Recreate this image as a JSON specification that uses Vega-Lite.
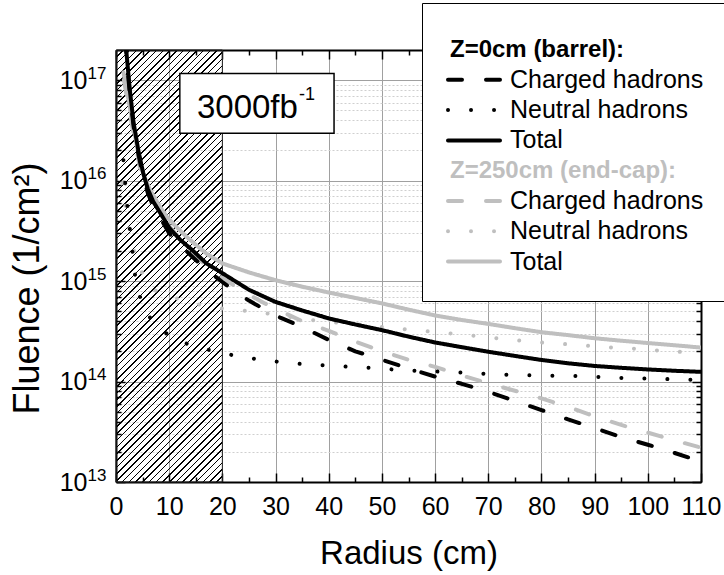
{
"$schema":"https://vega.github.io/schema/vega-lite/v6.json",
"width":585,"height":432,
"autosize":{"type":"none"},
"padding":{"left":116,"top":50,"right":23,"bottom":93},
"config":{"font":"Liberation Sans","view":{"stroke":null}},
"resolve":{"axis":{"x":"independent","y":"independent"}},
"layer":[
{
"data":{"values":[{}]},
"mark":{"type":"rect","stroke":"#222","strokeWidth":1,"fill":{"gradient":"linear","x1":0,"y1":0,"x2":0.2894,"y2":1.175,"stops":[
{"offset":0,"color":"#000"},{"offset":0.0028,"color":"#000"},{"offset":0.0028,"color":"transparent"},{"offset":0.0125,"color":"transparent"},
{"offset":0.0125,"color":"#000"},{"offset":0.0153,"color":"#000"},{"offset":0.0153,"color":"transparent"},{"offset":0.025,"color":"transparent"},
{"offset":0.025,"color":"#000"},{"offset":0.0278,"color":"#000"},{"offset":0.0278,"color":"transparent"},{"offset":0.0375,"color":"transparent"},
{"offset":0.0375,"color":"#000"},{"offset":0.0403,"color":"#000"},{"offset":0.0403,"color":"transparent"},{"offset":0.05,"color":"transparent"},
{"offset":0.05,"color":"#000"},{"offset":0.0528,"color":"#000"},{"offset":0.0528,"color":"transparent"},{"offset":0.0625,"color":"transparent"},
{"offset":0.0625,"color":"#000"},{"offset":0.0653,"color":"#000"},{"offset":0.0653,"color":"transparent"},{"offset":0.075,"color":"transparent"},
{"offset":0.075,"color":"#000"},{"offset":0.0778,"color":"#000"},{"offset":0.0778,"color":"transparent"},{"offset":0.0875,"color":"transparent"},
{"offset":0.0875,"color":"#000"},{"offset":0.0903,"color":"#000"},{"offset":0.0903,"color":"transparent"},{"offset":0.1,"color":"transparent"},
{"offset":0.1,"color":"#000"},{"offset":0.1028,"color":"#000"},{"offset":0.1028,"color":"transparent"},{"offset":0.1125,"color":"transparent"},
{"offset":0.1125,"color":"#000"},{"offset":0.1153,"color":"#000"},{"offset":0.1153,"color":"transparent"},{"offset":0.125,"color":"transparent"},
{"offset":0.125,"color":"#000"},{"offset":0.1278,"color":"#000"},{"offset":0.1278,"color":"transparent"},{"offset":0.1375,"color":"transparent"},
{"offset":0.1375,"color":"#000"},{"offset":0.1403,"color":"#000"},{"offset":0.1403,"color":"transparent"},{"offset":0.15,"color":"transparent"},
{"offset":0.15,"color":"#000"},{"offset":0.1528,"color":"#000"},{"offset":0.1528,"color":"transparent"},{"offset":0.1625,"color":"transparent"},
{"offset":0.1625,"color":"#000"},{"offset":0.1653,"color":"#000"},{"offset":0.1653,"color":"transparent"},{"offset":0.175,"color":"transparent"},
{"offset":0.175,"color":"#000"},{"offset":0.1778,"color":"#000"},{"offset":0.1778,"color":"transparent"},{"offset":0.1875,"color":"transparent"},
{"offset":0.1875,"color":"#000"},{"offset":0.1903,"color":"#000"},{"offset":0.1903,"color":"transparent"},{"offset":0.2,"color":"transparent"},
{"offset":0.2,"color":"#000"},{"offset":0.2028,"color":"#000"},{"offset":0.2028,"color":"transparent"},{"offset":0.2125,"color":"transparent"},
{"offset":0.2125,"color":"#000"},{"offset":0.2153,"color":"#000"},{"offset":0.2153,"color":"transparent"},{"offset":0.225,"color":"transparent"},
{"offset":0.225,"color":"#000"},{"offset":0.2278,"color":"#000"},{"offset":0.2278,"color":"transparent"},{"offset":0.2375,"color":"transparent"},
{"offset":0.2375,"color":"#000"},{"offset":0.2403,"color":"#000"},{"offset":0.2403,"color":"transparent"},{"offset":0.25,"color":"transparent"},
{"offset":0.25,"color":"#000"},{"offset":0.2528,"color":"#000"},{"offset":0.2528,"color":"transparent"},{"offset":0.2625,"color":"transparent"},
{"offset":0.2625,"color":"#000"},{"offset":0.2653,"color":"#000"},{"offset":0.2653,"color":"transparent"},{"offset":0.275,"color":"transparent"},
{"offset":0.275,"color":"#000"},{"offset":0.2778,"color":"#000"},{"offset":0.2778,"color":"transparent"},{"offset":0.2875,"color":"transparent"},
{"offset":0.2875,"color":"#000"},{"offset":0.2903,"color":"#000"},{"offset":0.2903,"color":"transparent"},{"offset":0.3,"color":"transparent"},
{"offset":0.3,"color":"#000"},{"offset":0.3028,"color":"#000"},{"offset":0.3028,"color":"transparent"},{"offset":0.3125,"color":"transparent"},
{"offset":0.3125,"color":"#000"},{"offset":0.3153,"color":"#000"},{"offset":0.3153,"color":"transparent"},{"offset":0.325,"color":"transparent"},
{"offset":0.325,"color":"#000"},{"offset":0.3278,"color":"#000"},{"offset":0.3278,"color":"transparent"},{"offset":0.3375,"color":"transparent"},
{"offset":0.3375,"color":"#000"},{"offset":0.3403,"color":"#000"},{"offset":0.3403,"color":"transparent"},{"offset":0.35,"color":"transparent"},
{"offset":0.35,"color":"#000"},{"offset":0.3528,"color":"#000"},{"offset":0.3528,"color":"transparent"},{"offset":0.3625,"color":"transparent"},
{"offset":0.3625,"color":"#000"},{"offset":0.3653,"color":"#000"},{"offset":0.3653,"color":"transparent"},{"offset":0.375,"color":"transparent"},
{"offset":0.375,"color":"#000"},{"offset":0.3778,"color":"#000"},{"offset":0.3778,"color":"transparent"},{"offset":0.3875,"color":"transparent"},
{"offset":0.3875,"color":"#000"},{"offset":0.3903,"color":"#000"},{"offset":0.3903,"color":"transparent"},{"offset":0.4,"color":"transparent"},
{"offset":0.4,"color":"#000"},{"offset":0.4028,"color":"#000"},{"offset":0.4028,"color":"transparent"},{"offset":0.4125,"color":"transparent"},
{"offset":0.4125,"color":"#000"},{"offset":0.4153,"color":"#000"},{"offset":0.4153,"color":"transparent"},{"offset":0.425,"color":"transparent"},
{"offset":0.425,"color":"#000"},{"offset":0.4278,"color":"#000"},{"offset":0.4278,"color":"transparent"},{"offset":0.4375,"color":"transparent"},
{"offset":0.4375,"color":"#000"},{"offset":0.4403,"color":"#000"},{"offset":0.4403,"color":"transparent"},{"offset":0.45,"color":"transparent"},
{"offset":0.45,"color":"#000"},{"offset":0.4528,"color":"#000"},{"offset":0.4528,"color":"transparent"},{"offset":0.4625,"color":"transparent"},
{"offset":0.4625,"color":"#000"},{"offset":0.4653,"color":"#000"},{"offset":0.4653,"color":"transparent"},{"offset":0.475,"color":"transparent"},
{"offset":0.475,"color":"#000"},{"offset":0.4778,"color":"#000"},{"offset":0.4778,"color":"transparent"},{"offset":0.4875,"color":"transparent"},
{"offset":0.4875,"color":"#000"},{"offset":0.4903,"color":"#000"},{"offset":0.4903,"color":"transparent"},{"offset":0.5,"color":"transparent"},
{"offset":0.5,"color":"#000"},{"offset":0.5028,"color":"#000"},{"offset":0.5028,"color":"transparent"},{"offset":0.5125,"color":"transparent"},
{"offset":0.5125,"color":"#000"},{"offset":0.5153,"color":"#000"},{"offset":0.5153,"color":"transparent"},{"offset":0.525,"color":"transparent"},
{"offset":0.525,"color":"#000"},{"offset":0.5278,"color":"#000"},{"offset":0.5278,"color":"transparent"},{"offset":0.5375,"color":"transparent"},
{"offset":0.5375,"color":"#000"},{"offset":0.5403,"color":"#000"},{"offset":0.5403,"color":"transparent"},{"offset":0.55,"color":"transparent"},
{"offset":0.55,"color":"#000"},{"offset":0.5528,"color":"#000"},{"offset":0.5528,"color":"transparent"},{"offset":0.5625,"color":"transparent"},
{"offset":0.5625,"color":"#000"},{"offset":0.5653,"color":"#000"},{"offset":0.5653,"color":"transparent"},{"offset":0.575,"color":"transparent"},
{"offset":0.575,"color":"#000"},{"offset":0.5778,"color":"#000"},{"offset":0.5778,"color":"transparent"},{"offset":0.5875,"color":"transparent"},
{"offset":0.5875,"color":"#000"},{"offset":0.5903,"color":"#000"},{"offset":0.5903,"color":"transparent"},{"offset":0.6,"color":"transparent"},
{"offset":0.6,"color":"#000"},{"offset":0.6028,"color":"#000"},{"offset":0.6028,"color":"transparent"},{"offset":0.6125,"color":"transparent"},
{"offset":0.6125,"color":"#000"},{"offset":0.6153,"color":"#000"},{"offset":0.6153,"color":"transparent"},{"offset":0.625,"color":"transparent"},
{"offset":0.625,"color":"#000"},{"offset":0.6278,"color":"#000"},{"offset":0.6278,"color":"transparent"},{"offset":0.6375,"color":"transparent"},
{"offset":0.6375,"color":"#000"},{"offset":0.6403,"color":"#000"},{"offset":0.6403,"color":"transparent"},{"offset":0.65,"color":"transparent"},
{"offset":0.65,"color":"#000"},{"offset":0.6528,"color":"#000"},{"offset":0.6528,"color":"transparent"},{"offset":0.6625,"color":"transparent"},
{"offset":0.6625,"color":"#000"},{"offset":0.6653,"color":"#000"},{"offset":0.6653,"color":"transparent"},{"offset":0.675,"color":"transparent"},
{"offset":0.675,"color":"#000"},{"offset":0.6778,"color":"#000"},{"offset":0.6778,"color":"transparent"},{"offset":0.6875,"color":"transparent"},
{"offset":0.6875,"color":"#000"},{"offset":0.6903,"color":"#000"},{"offset":0.6903,"color":"transparent"},{"offset":0.7,"color":"transparent"},
{"offset":0.7,"color":"#000"},{"offset":0.7028,"color":"#000"},{"offset":0.7028,"color":"transparent"},{"offset":0.7125,"color":"transparent"},
{"offset":0.7125,"color":"#000"},{"offset":0.7153,"color":"#000"},{"offset":0.7153,"color":"transparent"},{"offset":0.725,"color":"transparent"},
{"offset":0.725,"color":"#000"},{"offset":0.7278,"color":"#000"},{"offset":0.7278,"color":"transparent"},{"offset":0.7375,"color":"transparent"},
{"offset":0.7375,"color":"#000"},{"offset":0.7403,"color":"#000"},{"offset":0.7403,"color":"transparent"},{"offset":0.75,"color":"transparent"},
{"offset":0.75,"color":"#000"},{"offset":0.7528,"color":"#000"},{"offset":0.7528,"color":"transparent"},{"offset":0.7625,"color":"transparent"},
{"offset":0.7625,"color":"#000"},{"offset":0.7653,"color":"#000"},{"offset":0.7653,"color":"transparent"},{"offset":0.775,"color":"transparent"},
{"offset":0.775,"color":"#000"},{"offset":0.7778,"color":"#000"},{"offset":0.7778,"color":"transparent"},{"offset":0.7875,"color":"transparent"},
{"offset":0.7875,"color":"#000"},{"offset":0.7903,"color":"#000"},{"offset":0.7903,"color":"transparent"},{"offset":0.8,"color":"transparent"},
{"offset":0.8,"color":"#000"},{"offset":0.8028,"color":"#000"},{"offset":0.8028,"color":"transparent"},{"offset":0.8125,"color":"transparent"},
{"offset":0.8125,"color":"#000"},{"offset":0.8153,"color":"#000"},{"offset":0.8153,"color":"transparent"},{"offset":0.825,"color":"transparent"},
{"offset":0.825,"color":"#000"},{"offset":0.8278,"color":"#000"},{"offset":0.8278,"color":"transparent"},{"offset":0.8375,"color":"transparent"},
{"offset":0.8375,"color":"#000"},{"offset":0.8403,"color":"#000"},{"offset":0.8403,"color":"transparent"},{"offset":0.85,"color":"transparent"},
{"offset":0.85,"color":"#000"},{"offset":0.8528,"color":"#000"},{"offset":0.8528,"color":"transparent"},{"offset":0.8625,"color":"transparent"},
{"offset":0.8625,"color":"#000"},{"offset":0.8653,"color":"#000"},{"offset":0.8653,"color":"transparent"},{"offset":0.875,"color":"transparent"},
{"offset":0.875,"color":"#000"},{"offset":0.8778,"color":"#000"},{"offset":0.8778,"color":"transparent"},{"offset":0.8875,"color":"transparent"},
{"offset":0.8875,"color":"#000"},{"offset":0.8903,"color":"#000"},{"offset":0.8903,"color":"transparent"},{"offset":0.9,"color":"transparent"},
{"offset":0.9,"color":"#000"},{"offset":0.9028,"color":"#000"},{"offset":0.9028,"color":"transparent"},{"offset":0.9125,"color":"transparent"},
{"offset":0.9125,"color":"#000"},{"offset":0.9153,"color":"#000"},{"offset":0.9153,"color":"transparent"},{"offset":0.925,"color":"transparent"},
{"offset":0.925,"color":"#000"},{"offset":0.9278,"color":"#000"},{"offset":0.9278,"color":"transparent"},{"offset":0.9375,"color":"transparent"},
{"offset":0.9375,"color":"#000"},{"offset":0.9403,"color":"#000"},{"offset":0.9403,"color":"transparent"},{"offset":0.95,"color":"transparent"},
{"offset":0.95,"color":"#000"},{"offset":0.9528,"color":"#000"},{"offset":0.9528,"color":"transparent"},{"offset":0.9625,"color":"transparent"},
{"offset":0.9625,"color":"#000"},{"offset":0.9653,"color":"#000"},{"offset":0.9653,"color":"transparent"},{"offset":0.975,"color":"transparent"},
{"offset":0.975,"color":"#000"},{"offset":0.9778,"color":"#000"},{"offset":0.9778,"color":"transparent"},{"offset":0.9875,"color":"transparent"},
{"offset":0.9875,"color":"#000"},{"offset":0.9903,"color":"#000"},{"offset":0.9903,"color":"transparent"},{"offset":1,"color":"transparent"}
]}},
"encoding":{
"x":{"datum":0,"type":"quantitative","scale":{"domain":[0,110],"nice":false,"zero":false},
 "axis":{"orient":"bottom","values":[0,5,10,15,20,25,30,35,40,45,50,55,60,65,70,75,80,85,90,95,100,105,110],
 "labelExpr":"datum.value % 10 === 0 ? datum.label : ''","format":"d","labelFontSize":25,"labelColor":"black","labelPadding":21,"labelOverlap":false,"labelFlush":false,
 "tickColor":"black","tickWidth":1.5,"tickSize":{"condition":{"test":"datum.value % 10 === 0","value":-9},"value":-5},
 "grid":true,"gridColor":{"condition":{"test":"datum.value % 10 === 0","value":"#a0a0a0"},"value":"transparent"},"gridWidth":1,
 "domainColor":"black","domainWidth":2,"title":"Radius (cm)","titleFontSize":33,"titleFontWeight":"normal","titleColor":"black","titlePadding":14}},
"x2":{"datum":20},
"y":{"datum":1e13,"type":"quantitative","scale":{"type":"log","domain":[1e13,2e17],"nice":false},
 "axis":{"orient":"left","values":[1e13,2e13,3e13,4e13,5e13,6e13,7e13,8e13,9e13,1e14,2e14,3e14,4e14,5e14,6e14,7e14,8e14,9e14,1e15,2e15,3e15,4e15,5e15,6e15,7e15,8e15,9e15,1e16,2e16,3e16,4e16,5e16,6e16,7e16,8e16,9e16,1e17],
 "labelExpr":"abs(log(datum.value)/LN10 - round(log(datum.value)/LN10)) < 0.001 ? '10' : ''",
 "labelFontSize":25,"labelColor":"black","labelPadding":38,"labelOverlap":false,"labelFlush":false,
 "tickColor":"black","tickWidth":1.5,"tickSize":{"condition":{"test":"abs(log(datum.value)/LN10 - round(log(datum.value)/LN10)) < 0.001","value":-9},"value":-5},
 "grid":true,"gridColor":{"condition":{"test":"abs(log(datum.value)/LN10 - round(log(datum.value)/LN10)) < 0.001","value":"#a0a0a0"},"value":"#cfcfcf"},
 "gridDash":{"condition":{"test":"abs(log(datum.value)/LN10 - round(log(datum.value)/LN10)) < 0.001","value":[]},"value":[2,2]},"gridWidth":1,
 "domainColor":"black","domainWidth":2,"title":"Fluence (1/cm²)","titleFontSize":36,"titleFontWeight":"normal","titleColor":"black","titlePadding":13,"titleY":238}},
"y2":{"datum":2e17}
}
},
{
"data":{"values":[
{"s":"e_nh","r":1.2,"v":9.5e15},{"s":"e_nh","r":1.6,"v":6.5e15},{"s":"e_nh","r":2.0,"v":4.6e15},{"s":"e_nh","r":2.9,"v":2.6e15},{"s":"e_nh","r":4,"v":1.5e15},{"s":"e_nh","r":5.8,"v":9.8e14},{"s":"e_nh","r":7.5,"v":8.0e14},{"s":"e_nh","r":9.2,"v":7.3e14},{"s":"e_nh","r":13.6,"v":6.2e14},{"s":"e_nh","r":17.7,"v":5.5e14},{"s":"e_nh","r":21.9,"v":5.2e14},{"s":"e_nh","r":26.1,"v":4.96e14},{"s":"e_nh","r":30.3,"v":4.6e14},{"s":"e_nh","r":34.8,"v":4.25e14},{"s":"e_nh","r":39,"v":3.95e14},{"s":"e_nh","r":43.4,"v":3.8e14},{"s":"e_nh","r":47.8,"v":3.6e14},{"s":"e_nh","r":52.2,"v":3.4e14},{"s":"e_nh","r":56.3,"v":3.24e14},{"s":"e_nh","r":60.6,"v":3.1e14},{"s":"e_nh","r":64.8,"v":2.95e14},{"s":"e_nh","r":69,"v":2.8e14},{"s":"e_nh","r":73.4,"v":2.63e14},{"s":"e_nh","r":77.8,"v":2.5e14},{"s":"e_nh","r":82,"v":2.4e14},{"s":"e_nh","r":86.4,"v":2.33e14},{"s":"e_nh","r":90.7,"v":2.22e14},{"s":"e_nh","r":95,"v":2.16e14},{"s":"e_nh","r":99.2,"v":2.1e14},{"s":"e_nh","r":103.4,"v":2.0e14},{"s":"e_nh","r":107.8,"v":1.96e14},{"s":"e_nh","r":110,"v":1.94e14},
{"s":"e_ch","r":1.5,"v":1.0e17},{"s":"e_ch","r":2.0,"v":7.0e16},{"s":"e_ch","r":2.6,"v":4.7e16},{"s":"e_ch","r":3.2,"v":3.1e16},{"s":"e_ch","r":3.9,"v":2.0e16},{"s":"e_ch","r":4.5,"v":1.35e16},{"s":"e_ch","r":5.3,"v":9.8e15},{"s":"e_ch","r":6.4,"v":7.2e15},{"s":"e_ch","r":8,"v":5.1e15},{"s":"e_ch","r":9.5,"v":3.8e15},{"s":"e_ch","r":11.5,"v":2.85e15},{"s":"e_ch","r":13.3,"v":2.2e15},{"s":"e_ch","r":15,"v":1.8e15},{"s":"e_ch","r":17,"v":1.4e15},{"s":"e_ch","r":20,"v":1.08e15},{"s":"e_ch","r":22.5,"v":8.8e14},{"s":"e_ch","r":25,"v":7.3e14},{"s":"e_ch","r":28,"v":6.0e14},{"s":"e_ch","r":31,"v":5.0e14},{"s":"e_ch","r":35,"v":4.0e14},{"s":"e_ch","r":40,"v":3.2e14},{"s":"e_ch","r":45,"v":2.5e14},{"s":"e_ch","r":50,"v":2.0e14},{"s":"e_ch","r":55,"v":1.65e14},{"s":"e_ch","r":60,"v":1.4e14},{"s":"e_ch","r":65,"v":1.15e14},{"s":"e_ch","r":70,"v":9.6e13},{"s":"e_ch","r":75,"v":8.1e13},{"s":"e_ch","r":80,"v":6.8e13},{"s":"e_ch","r":85,"v":5.6e13},{"s":"e_ch","r":90,"v":4.5e13},{"s":"e_ch","r":95,"v":3.7e13},{"s":"e_ch","r":100,"v":3.1e13},{"s":"e_ch","r":105,"v":2.6e13},{"s":"e_ch","r":110,"v":2.2e13},
{"s":"e_tot","r":1.4,"v":1.2e17},{"s":"e_tot","r":2.0,"v":8.0e16},{"s":"e_tot","r":2.6,"v":5.4e16},{"s":"e_tot","r":3.2,"v":3.6e16},{"s":"e_tot","r":3.9,"v":2.24e16},{"s":"e_tot","r":4.5,"v":1.5e16},{"s":"e_tot","r":5.3,"v":1.1e16},{"s":"e_tot","r":6.4,"v":8.1e15},{"s":"e_tot","r":8,"v":5.8e15},{"s":"e_tot","r":9.5,"v":4.4e15},{"s":"e_tot","r":11.5,"v":3.4e15},{"s":"e_tot","r":13.3,"v":2.75e15},{"s":"e_tot","r":15,"v":2.3e15},{"s":"e_tot","r":17,"v":1.88e15},{"s":"e_tot","r":20,"v":1.5e15},{"s":"e_tot","r":25,"v":1.22e15},{"s":"e_tot","r":30,"v":1.02e15},{"s":"e_tot","r":35,"v":8.8e14},{"s":"e_tot","r":40,"v":7.7e14},{"s":"e_tot","r":45,"v":6.8e14},{"s":"e_tot","r":50,"v":6.0e14},{"s":"e_tot","r":55,"v":5.2e14},{"s":"e_tot","r":60,"v":4.55e14},{"s":"e_tot","r":65,"v":4.1e14},{"s":"e_tot","r":70,"v":3.75e14},{"s":"e_tot","r":75,"v":3.4e14},{"s":"e_tot","r":80,"v":3.1e14},{"s":"e_tot","r":85,"v":2.9e14},{"s":"e_tot","r":90,"v":2.7e14},{"s":"e_tot","r":95,"v":2.55e14},{"s":"e_tot","r":100,"v":2.42e14},{"s":"e_tot","r":105,"v":2.3e14},{"s":"e_tot","r":110,"v":2.18e14},
{"s":"b_nh","r":1.4,"v":1.6e16},{"s":"b_nh","r":1.5,"v":1.3e16},{"s":"b_nh","r":1.9,"v":7.6e15},{"s":"b_nh","r":2.3,"v":4.6e15},{"s":"b_nh","r":2.8,"v":2.7e15},{"s":"b_nh","r":3.3,"v":1.56e15},{"s":"b_nh","r":3.8,"v":9.1e14},{"s":"b_nh","r":5.1,"v":5.6e14},{"s":"b_nh","r":7,"v":3.85e14},{"s":"b_nh","r":10.6,"v":2.7e14},{"s":"b_nh","r":14.9,"v":2.22e14},{"s":"b_nh","r":19,"v":1.98e14},{"s":"b_nh","r":23.2,"v":1.77e14},{"s":"b_nh","r":27.7,"v":1.64e14},{"s":"b_nh","r":31.9,"v":1.54e14},{"s":"b_nh","r":36.2,"v":1.48e14},{"s":"b_nh","r":40.4,"v":1.44e14},{"s":"b_nh","r":44.8,"v":1.39e14},{"s":"b_nh","r":49.1,"v":1.36e14},{"s":"b_nh","r":53.4,"v":1.3e14},{"s":"b_nh","r":57.8,"v":1.27e14},{"s":"b_nh","r":62,"v":1.25e14},{"s":"b_nh","r":66.4,"v":1.22e14},{"s":"b_nh","r":70.2,"v":1.19e14},{"s":"b_nh","r":75,"v":1.16e14},{"s":"b_nh","r":79.4,"v":1.15e14},{"s":"b_nh","r":84,"v":1.14e14},{"s":"b_nh","r":88.2,"v":1.13e14},{"s":"b_nh","r":92.3,"v":1.1e14},{"s":"b_nh","r":96.7,"v":1.08e14},{"s":"b_nh","r":101,"v":1.07e14},{"s":"b_nh","r":105.3,"v":1.05e14},{"s":"b_nh","r":110,"v":1.04e14},
{"s":"b_ch","r":1.8,"v":2.6e17},{"s":"b_ch","r":2.0,"v":1.6e17},{"s":"b_ch","r":2.6,"v":7.4e16},{"s":"b_ch","r":3.3,"v":3.5e16},{"s":"b_ch","r":4.2,"v":1.85e16},{"s":"b_ch","r":5.1,"v":1.1e16},{"s":"b_ch","r":6,"v":7.5e15},{"s":"b_ch","r":7,"v":5.6e15},{"s":"b_ch","r":8.5,"v":4.1e15},{"s":"b_ch","r":10,"v":3.0e15},{"s":"b_ch","r":12,"v":2.3e15},{"s":"b_ch","r":14.5,"v":1.72e15},{"s":"b_ch","r":17,"v":1.3e15},{"s":"b_ch","r":20,"v":9.8e14},{"s":"b_ch","r":22,"v":8.2e14},{"s":"b_ch","r":25,"v":6.4e14},{"s":"b_ch","r":28,"v":5.2e14},{"s":"b_ch","r":31,"v":4.3e14},{"s":"b_ch","r":35,"v":3.5e14},{"s":"b_ch","r":40,"v":2.6e14},{"s":"b_ch","r":45,"v":2.0e14},{"s":"b_ch","r":50,"v":1.65e14},{"s":"b_ch","r":55,"v":1.35e14},{"s":"b_ch","r":60,"v":1.12e14},{"s":"b_ch","r":65,"v":9.5e13},{"s":"b_ch","r":70,"v":7.9e13},{"s":"b_ch","r":75,"v":6.4e13},{"s":"b_ch","r":80,"v":5.2e13},{"s":"b_ch","r":85,"v":4.2e13},{"s":"b_ch","r":90,"v":3.45e13},{"s":"b_ch","r":95,"v":2.8e13},{"s":"b_ch","r":100,"v":2.35e13},{"s":"b_ch","r":105,"v":1.95e13},{"s":"b_ch","r":110,"v":1.6e13},
{"s":"b_tot","r":1.6,"v":4e17},{"s":"b_tot","r":2.0,"v":1.8e17},{"s":"b_tot","r":2.6,"v":8e16},{"s":"b_tot","r":3.3,"v":3.8e16},{"s":"b_tot","r":4.2,"v":2.0e16},{"s":"b_tot","r":5.1,"v":1.2e16},{"s":"b_tot","r":6,"v":8.2e15},{"s":"b_tot","r":7,"v":6.2e15},{"s":"b_tot","r":8.5,"v":4.6e15},{"s":"b_tot","r":10,"v":3.4e15},{"s":"b_tot","r":12,"v":2.6e15},{"s":"b_tot","r":14.5,"v":2.0e15},{"s":"b_tot","r":17,"v":1.5e15},{"s":"b_tot","r":20,"v":1.2e15},{"s":"b_tot","r":25,"v":8.2e14},{"s":"b_tot","r":30,"v":6.2e14},{"s":"b_tot","r":35,"v":5.1e14},{"s":"b_tot","r":40,"v":4.25e14},{"s":"b_tot","r":45,"v":3.7e14},{"s":"b_tot","r":50,"v":3.25e14},{"s":"b_tot","r":55,"v":2.8e14},{"s":"b_tot","r":60,"v":2.45e14},{"s":"b_tot","r":65,"v":2.2e14},{"s":"b_tot","r":70,"v":1.98e14},{"s":"b_tot","r":75,"v":1.8e14},{"s":"b_tot","r":80,"v":1.64e14},{"s":"b_tot","r":85,"v":1.52e14},{"s":"b_tot","r":90,"v":1.43e14},{"s":"b_tot","r":95,"v":1.37e14},{"s":"b_tot","r":100,"v":1.32e14},{"s":"b_tot","r":105,"v":1.28e14},{"s":"b_tot","r":110,"v":1.25e14}
]},
"mark":{"type":"line","clip":true,"strokeCap":"round","strokeJoin":"round"},
"encoding":{
"x":{"field":"r","type":"quantitative","axis":{"orient":"top","values":[0,5,10,15,20,25,30,35,40,45,50,55,60,65,70,75,80,85,90,95,100,105,110],"labels":false,"grid":false,"title":null,"tickColor":"black","tickWidth":1.5,"tickSize":{"condition":{"test":"datum.value % 10 === 0","value":-9},"value":-5},"domainColor":"black","domainWidth":2}},
"y":{"field":"v","type":"quantitative","axis":{"orient":"right","values":[1e13,2e13,3e13,4e13,5e13,6e13,7e13,8e13,9e13,1e14,2e14,3e14,4e14,5e14,6e14,7e14,8e14,9e14,1e15,2e15,3e15,4e15,5e15,6e15,7e15,8e15,9e15,1e16,2e16,3e16,4e16,5e16,6e16,7e16,8e16,9e16,1e17],"labels":false,"grid":false,"title":null,"tickColor":"black","tickWidth":1.5,"tickSize":{"condition":{"test":"abs(log(datum.value)/LN10 - round(log(datum.value)/LN10)) < 0.001","value":-9},"value":-5},"domainColor":"black","domainWidth":2}},
"color":{"field":"s","type":"nominal","scale":{"domain":["h1","b_ch","b_nh","b_tot","h2","e_ch","e_nh","e_tot"],"range":["transparent","black","black","black","transparent","#bfbfbf","#bfbfbf","#bfbfbf"]},
 "legend":{"orient":"none","legendX":306,"legendY":-47,"title":" ","titleFontSize":5,"titlePadding":2.5,"direction":"vertical","strokeColor":"black","fillColor":"white","padding":24,
 "labelFont":"Liberation Sans","labelFontSize":25,"labelColor":"black","labelLimit":600,"labelOffset":8,"symbolSize":2704,"symbolStrokeWidth":4,"symbolType":"stroke","rowPadding":0.3,"clipHeight":30,
 "labelExpr":"datum.value === 'h1' ? 'Z=0cm (barrel):' : datum.value === 'h2' ? 'Z=250cm (end-cap):' : (datum.value === 'b_ch' || datum.value === 'e_ch') ? 'Charged hadrons' : (datum.value === 'b_nh' || datum.value === 'e_nh') ? 'Neutral hadrons' : 'Total'",
 "encode":{"symbols":{"update":{"strokeCap":{"value":"round"}}},
  "labels":{"update":{"fontWeight":{"signal":"(datum.value === 'h1' || datum.value === 'h2') ? 'bold' : 'normal'"},"fontSize":{"signal":"(datum.value === 'h1' || datum.value === 'h2') ? 24 : 25"},"fill":{"signal":"datum.value === 'h2' ? '#bfbfbf' : 'black'"},"dx":{"signal":"(datum.value === 'h1' || datum.value === 'h2') ? -60 : 0"}}}}}},
"strokeDash":{"field":"s","type":"nominal","scale":{"domain":["h1","b_ch","b_nh","b_tot","h2","e_ch","e_nh","e_tot"],"range":[[1,0],[14,24],[0.01,23],[1,0],[1,0],[14,24],[0.01,23],[1,0]]}},
"strokeWidth":{"field":"s","type":"nominal","scale":{"domain":["h1","b_ch","b_nh","b_tot","h2","e_ch","e_nh","e_tot"],"range":[4,4,5,5,4,4,5,5]}}
}
},
{
"data":{"values":[{}]},
"mark":{"type":"rect","fill":"white","stroke":"black","strokeWidth":1.5},
"encoding":{"x":{"datum":12,"type":"quantitative","axis":null},"x2":{"datum":41},
"y":{"datum":2.97e16,"type":"quantitative","axis":{"orient":"left","values":[1e13,1e14,1e15,1e16,1e17],"labelExpr":"datum.value < 5e13 ? '13' : datum.value < 5e14 ? '14' : datum.value < 5e15 ? '15' : datum.value < 5e16 ? '16' : '17'","labelFontSize":17,"labelColor":"black","labelAlign":"left","labelBaseline":"middle","labelPadding":29,"labelOffset":-7,"labelOverlap":false,"labelFlush":false,"ticks":false,"tickSize":0,"grid":false,"domain":false,"title":null}},
"y2":{"datum":1.17e17}}
},
{
"data":{"values":[{"t":"3000fb"}]},
"mark":{"type":"text","fontSize":33,"align":"right","baseline":"alphabetic","color":"black"},
"encoding":{"x":{"datum":34.2,"type":"quantitative","axis":null},"y":{"datum":4.2e16,"type":"quantitative","axis":null},"text":{"field":"t"}}
},
{
"data":{"values":[{"t":"-1"}]},
"mark":{"type":"text","fontSize":18,"align":"left","baseline":"alphabetic","color":"black","dx":1,"dy":-18},
"encoding":{"x":{"datum":34.2,"type":"quantitative","axis":null},"y":{"datum":4.2e16,"type":"quantitative","axis":null},"text":{"field":"t"}}
}
]
}
